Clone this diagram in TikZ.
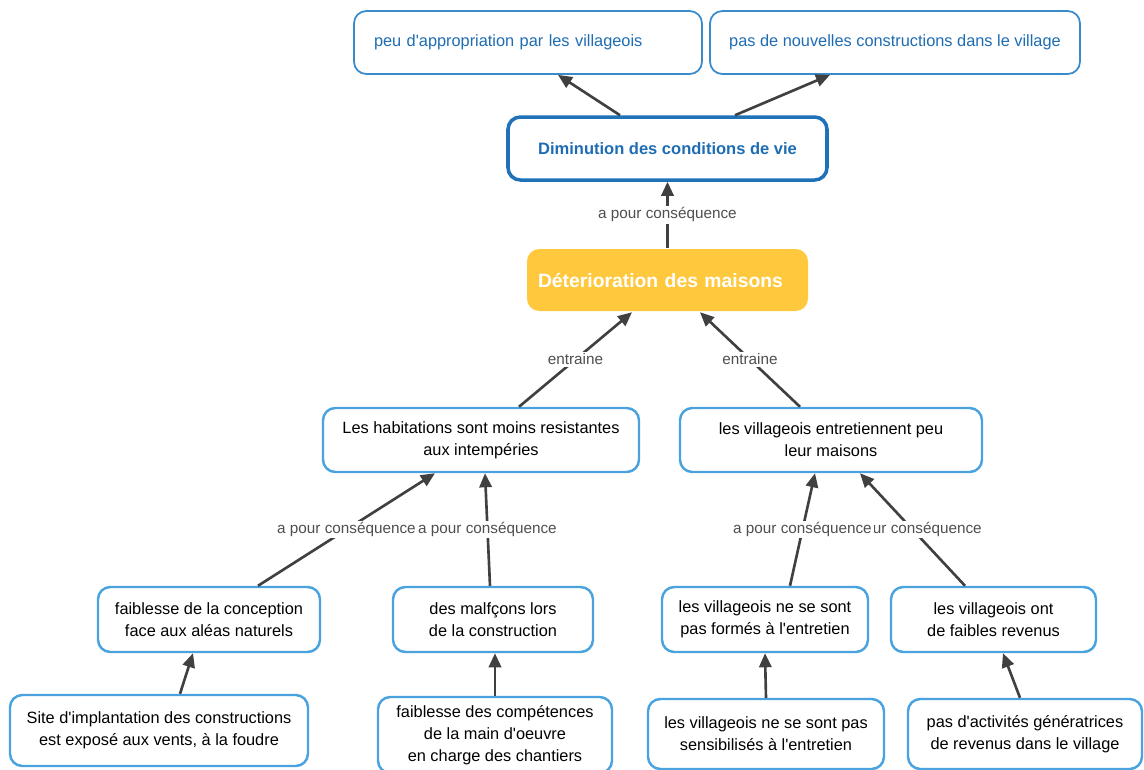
\documentclass[tikz,border=0pt]{standalone}
\usepackage{fontspec}
\setmainfont{Liberation Sans}[Ligatures=TeXOff]
\usetikzlibrary{arrows.meta,calc}

\definecolor{boxblue}{HTML}{4AA3DF}
\definecolor{topblue}{HTML}{3A8BCB}
\definecolor{dimblue}{HTML}{1F72B8}
\definecolor{dimtext}{HTML}{1E6DB3}
\definecolor{detorange}{HTML}{FFC83D}
\definecolor{linkgray}{HTML}{404040}
\definecolor{labelgray}{HTML}{4F4F4F}

\tikzset{
  concept/.style={draw=boxblue, line width=1.4pt, rounded corners=7pt, fill=white,
    align=center, inner sep=0pt, text=black, font=\fontsize{9.3}{12.4}\selectfont},
  topbox/.style={draw=topblue, line width=1pt, text=dimtext},
  boxsize/.style 2 args={minimum width=#1*0.02cm, minimum height=#2*0.02cm},
  link/.style={draw=linkgray, line width=1.5pt, -{Triangle[length=8pt,width=7pt]}},
  linklabel/.style={fill=white, text=labelgray, inner sep=1pt,
    font=\fontsize{8.7}{10}\selectfont}
}

\begin{document}
\begin{tikzpicture}[x=0.02cm,y=-0.02cm]
		\useasboundingbox (0,0) rectangle (1144,769);

		% Consequences
		\node[concept,topbox,boxsize={348}{63},text width=6.16cm,align=left] (peu) at (528,42.5) {peu d'appropriation par les villageois};
		\node[concept,topbox,boxsize={370}{63}] (pas) at (895,42.5) {pas de nouvelles constructions dans le village};
		\node[concept,draw=dimblue,line width=2pt,text=dimtext,font=\bfseries\fontsize{9.4}{12}\selectfont,boxsize={319}{63}] (dim) at (667.5,148.5) {Diminution des conditions de vie};

		% Main problem
		\node[concept,draw=none,fill=detorange,text=white,font=\bfseries\fontsize{11}{13}\selectfont,boxsize={281}{62},text width=5.18cm,align=left] (det) at (667.5,280) {Déterioration des maisons};

		% Causes
		\node[concept,boxsize={316}{64}] (hab) at (481,440) {Les habitations sont moins resistantes\\aux intempéries};
		\node[concept,boxsize={302}{64}] (ent) at (831,440) {les villageois entretiennent peu\\leur maisons};
		\node[concept,boxsize={222}{65}] (conc) at (209,619.5) {faiblesse de la conception\\face aux aléas naturels};
		\node[concept,boxsize={200}{65}] (malf) at (493,619.5) {des malfçons lors\\de la construction};
		\node[concept,boxsize={206}{65}] (form) at (765,619.5) {les villageois ne se sont\\pas formés à l'entretien};
		\node[concept,boxsize={205}{65}] (rev) at (993.5,619.5) {les villageois ont\\de faibles revenus};
		\node[concept,boxsize={298}{71}] (site) at (159,730.5) {Site d'implantation des constructions\\est exposé aux vents, à la foudre};
		\node[concept,boxsize={234}{76}] (comp) at (495,735) {faiblesse des compétences\\de la main d'oeuvre\\en charge des chantiers};
		\node[concept,boxsize={236}{70}] (sens) at (766,734) {les villageois ne se sont pas\\sensibilisés à l'entretien};
		\node[concept,boxsize={234}{70}] (act) at (1025,734) {pas d'activités génératrices\\de revenus dans le village};

		% Links
		\draw[link] ($(dim.north)+(-47.5,0)$) -- ($(peu.south)+(30,0)$);
		\draw[link] ($(dim.north)+(67.5,0)$) -- ($(pas.south)+(-65,0)$);
		\draw[link] (det.north) -- node[linklabel] {a pour conséquence} (dim.south);
		\draw[link] ($(hab.north)+(38,0)$) -- node[linklabel] {entraine} ($(det.south)+(-35.5,0)$);
		\draw[link] ($(ent.north)+(-31,0)$) -- node[linklabel] {entraine} ($(det.south)+(32.5,0)$);
		\draw[link] ($(conc.north)+(49,0)$) -- node[linklabel] {a pour conséquence} ($(hab.south)+(-46,0)$);
		\draw[link] ($(malf.north)+(-3,0)$) -- node[linklabel] {a pour conséquence} ($(hab.south)+(4,0)$);
		\draw[link] ($(rev.north)+(-28.5,0)$) -- node[linklabel] {a pour conséquence} ($(ent.south)+(29,0)$);
		\draw[link] ($(form.north)+(25,0)$) -- node[linklabel] {a pour conséquence} ($(ent.south)+(-16,0)$);
		\draw[link] ($(site.north)+(21,0)$) -- ($(conc.south)+(-16,0)$);
		\draw[link] (comp.north) -- ($(malf.south)+(2,0)$);
		\draw[link] (sens.north) -- (form.south);
		\draw[link] ($(act.north)+(-5,0)$) -- ($(rev.south)+(9.5,0)$);
	\end{tikzpicture}
\end{document}
